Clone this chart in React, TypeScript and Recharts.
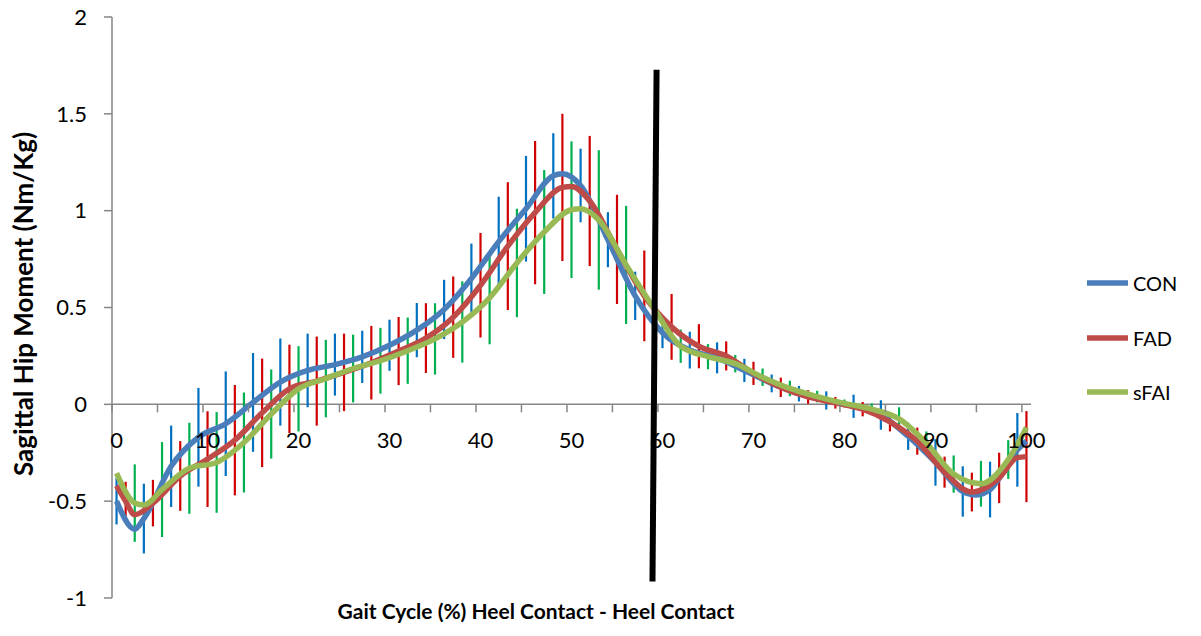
import React from 'react';
import { LineChart, Line, XAxis, YAxis, ErrorBar, ReferenceLine } from 'recharts';

// ---- Data ----
const conX = [0, 2, 3, 6, 9, 12, 15, 18, 21, 24, 27, 30, 33, 36, 39, 42, 45, 48, 49, 51, 54, 57, 60, 63, 66, 69, 72, 75, 78, 81, 84, 87, 90, 93, 94.5, 96, 99, 100];
const conMean = [-0.5, -0.645, -0.59, -0.32, -0.17, -0.1, 0.01, 0.115, 0.175, 0.205, 0.245, 0.305, 0.383, 0.49, 0.65, 0.84, 1.01, 1.18, 1.19, 1.13, 0.85, 0.56, 0.37, 0.28, 0.24, 0.175, 0.108, 0.055, 0.02, -0.01, -0.055, -0.165, -0.3, -0.45, -0.468, -0.44, -0.235, -0.19];
const conSD = [0.12, null, 0.18, 0.21, 0.255, 0.27, 0.255, 0.225, 0.19, 0.16, 0.135, 0.132, 0.14, 0.153, 0.18, 0.232, 0.273, 0.22, null, 0.19, 0.142, 0.125, 0.08, 0.095, 0.08, 0.06, 0.046, 0.04, 0.047, 0.06, 0.076, 0.07, 0.12, 0.13, null, 0.144, 0.19, null];

const fadX = [0, 1, 2, 4, 7, 10, 13, 16, 19, 22, 25, 28, 31, 34, 37, 40, 43, 46, 49, 50, 52, 55, 58, 61, 64, 67, 70, 73, 76, 79, 82, 85, 88, 91, 94, 97, 99, 100];
const fadMean = [-0.42, -0.5, -0.57, -0.51, -0.37, -0.283, -0.185, -0.044, 0.08, 0.12, 0.165, 0.215, 0.275, 0.342, 0.45, 0.615, 0.817, 0.99, 1.12, 1.125, 1.05, 0.8, 0.56, 0.4, 0.3, 0.25, 0.16, 0.088, 0.038, 0.008, -0.025, -0.09, -0.19, -0.35, -0.453, -0.38, -0.275, -0.27];
const fadSD = [null, 0.1, null, 0.12, 0.18, 0.247, 0.285, 0.28, 0.228, 0.23, 0.2, 0.19, 0.176, 0.18, 0.21, 0.27, 0.33, 0.37, 0.38, null, 0.336, 0.282, 0.234, 0.17, 0.114, 0.075, 0.06, 0.05, 0.035, 0.03, 0.037, 0.05, 0.07, 0.08, 0.1, 0.13, null, 0.235];

const sfaiX = [0, 2, 3, 5, 8, 11, 14, 17, 20, 23, 26, 29, 32, 35, 38, 41, 44, 47, 50, 51, 53, 56, 59, 62, 65, 68, 71, 74, 77, 80, 83, 86, 89, 92, 95, 98, 100];
const sfaiMean = [-0.355, -0.51, -0.52, -0.44, -0.33, -0.3, -0.197, -0.05, 0.08, 0.133, 0.185, 0.225, 0.277, 0.338, 0.425, 0.55, 0.73, 0.89, 1.005, 1.01, 0.952, 0.72, 0.5, 0.3, 0.246, 0.21, 0.14, 0.082, 0.04, 0.005, -0.025, -0.075, -0.2, -0.36, -0.41, -0.285, -0.12];
const sfaiSD = [null, 0.2, null, 0.245, 0.235, 0.26, 0.258, 0.23, 0.22, 0.2, 0.175, 0.17, 0.171, 0.184, 0.21, 0.24, 0.28, 0.32, 0.353, null, 0.36, 0.305, 0.15, 0.086, 0.065, 0.045, 0.045, 0.04, 0.03, 0.02, 0.03, 0.06, 0.06, 0.096, 0.118, 0.1, null];

const seriesNames = ['CON', 'FAD', 'sFAI'];
const yTicks = [-1, -0.5, 0, 0.5, 1, 1.5, 2];
const xLabelValues = [0, 10, 20, 30, 40, 50, 60, 70, 80, 90, 100];
const xTickMarks = [-0.5, 4.5, 9.5, 14.5, 19.5, 24.5, 29.5, 34.5, 39.5, 44.5, 49.5, 54.5, 59.5, 64.5, 69.5, 74.5, 79.5, 84.5, 89.5, 94.5, 99.5];
const phaseLine = [{ x: 59.35, y: 1.728 }, { x: 58.9, y: -0.915 }];

// ---- Layout / styles ----
const W = 1201;
const H = 636;
const M = { top: 17, right: 170, bottom: 8, left: 0 };
const Y_AXIS_W = 112;
const X_AXIS_H = 30;
const PLOT_W = W - M.left - M.right - Y_AXIS_W;
const PLOT_H = H - M.top - M.bottom - X_AXIS_H;
const Y0 = M.top + (2 / 3) * PLOT_H;
const HALF_CAT = PLOT_W / 101 / 2;
const FONT = 'Lato, "Open Sans", sans-serif';
const AXIS = '#868686';

const lineColors = ['#4A7EBB', '#BE4B48', '#98B954'];
const barColors = ['#0070C0', '#D00000', '#00B050'];

const build = (xs: number[], ms: number[], sds: (number | null)[]) =>
  xs.map((x, i) => ({ x, mean: ms[i], sd: sds[i] }));

const conData = build(conX, conMean, conSD);
const fadData = build(fadX, fadMean, fadSD);
const sfaiData = build(sfaiX, sfaiMean, sfaiSD);
const allData = [conData, fadData, sfaiData];

const XTick = (props: any) => {
  const { x, payload } = props;
  const v = payload.value;
  const lab = v + 0.5;
  const show = xLabelValues.includes(lab);
  return (
    <g>
      <line x1={x} x2={x} y1={Y0} y2={Y0 + 8} stroke={AXIS} strokeWidth={1.5} />
      {show && (
        <text x={x + HALF_CAT} y={Y0 + 44} textAnchor="middle" fontSize={22} fontFamily={FONT} fill="#000">
          {lab}
        </text>
      )}
    </g>
  );
};

const YTitle = () => (
  <text
    x={23}
    y={304}
    transform="rotate(-90 23 304)"
    textAnchor="middle"
    dominantBaseline="central"
    fontSize={26}
    fontWeight="bold"
    fontFamily={FONT}
    fill="#000"
  >
    Sagittal Hip Moment (Nm/Kg)
  </text>
);

const XTitle = () => (
  <text x={536} y={619} textAnchor="middle" fontSize={21} fontWeight="bold" fontFamily={FONT} fill="#000">
    Gait Cycle (%) Heel Contact - Heel Contact
  </text>
);

const LegendBox = () => (
  <div style={{ position: 'absolute', left: 1087, top: 256, fontFamily: FONT, fontSize: 20, color: '#000' }}>
    {seriesNames.map((n, i) => (
      <div key={n} style={{ height: 54.5, display: 'flex', alignItems: 'center' }}>
        <svg width={41} height={8} style={{ display: 'block' }}>
          <line x1={0} x2={41} y1={4} y2={4} stroke={lineColors[i]} strokeWidth={5.5} />
        </svg>
        <span style={{ marginLeft: 5, lineHeight: 1 }}>{n}</span>
      </div>
    ))}
  </div>
);

export default function App() {
  return (
    <div style={{ position: 'absolute', left: 0, top: 0, width: W, height: H, background: '#fff' }}>
      <LineChart width={W} height={H} margin={M} style={{ fontFamily: FONT }}>
        <XAxis
          type="number"
          dataKey="x"
          domain={[-0.5, 100.5]}
          ticks={xTickMarks}
          interval={0}
          axisLine={false}
          tickLine={false}
          tick={<XTick />}
          height={X_AXIS_H}
          label={<XTitle />}
        />
        <YAxis
          type="number"
          domain={[-1, 2]}
          ticks={yTicks}
          interval={0}
          width={Y_AXIS_W}
          tickSize={8}
          tickMargin={17}
          axisLine={{ stroke: AXIS, strokeWidth: 1.5 }}
          tickLine={{ stroke: AXIS, strokeWidth: 1.5 }}
          tick={{ fill: '#000', fontSize: 22, fontFamily: FONT }}
          label={<YTitle />}
        />
        <ReferenceLine y={0} stroke={AXIS} strokeWidth={1.5} />
        {allData.map((d, i) => (
          <Line
            key={'bars' + i}
            data={d.filter((p) => p.sd != null)}
            dataKey="mean"
            stroke="none"
            dot={false}
            activeDot={false}
            legendType="none"
            isAnimationActive={false}
          >
            <ErrorBar dataKey="sd" direction="y" width={0} stroke={barColors[i]} strokeWidth={2.2} isAnimationActive={false} />
          </Line>
        ))}
        {allData.map((d, i) => (
          <Line
            key={'line' + i}
            data={d}
            dataKey="mean"
            name={seriesNames[i]}
            type="monotone"
            stroke={lineColors[i]}
            strokeWidth={5.5}
            dot={false}
            activeDot={false}
            isAnimationActive={false}
          />
        ))}
        <ReferenceLine segment={phaseLine} stroke="#000" strokeWidth={6} ifOverflow="visible" />
      </LineChart>
      <LegendBox />
    </div>
  );
}
